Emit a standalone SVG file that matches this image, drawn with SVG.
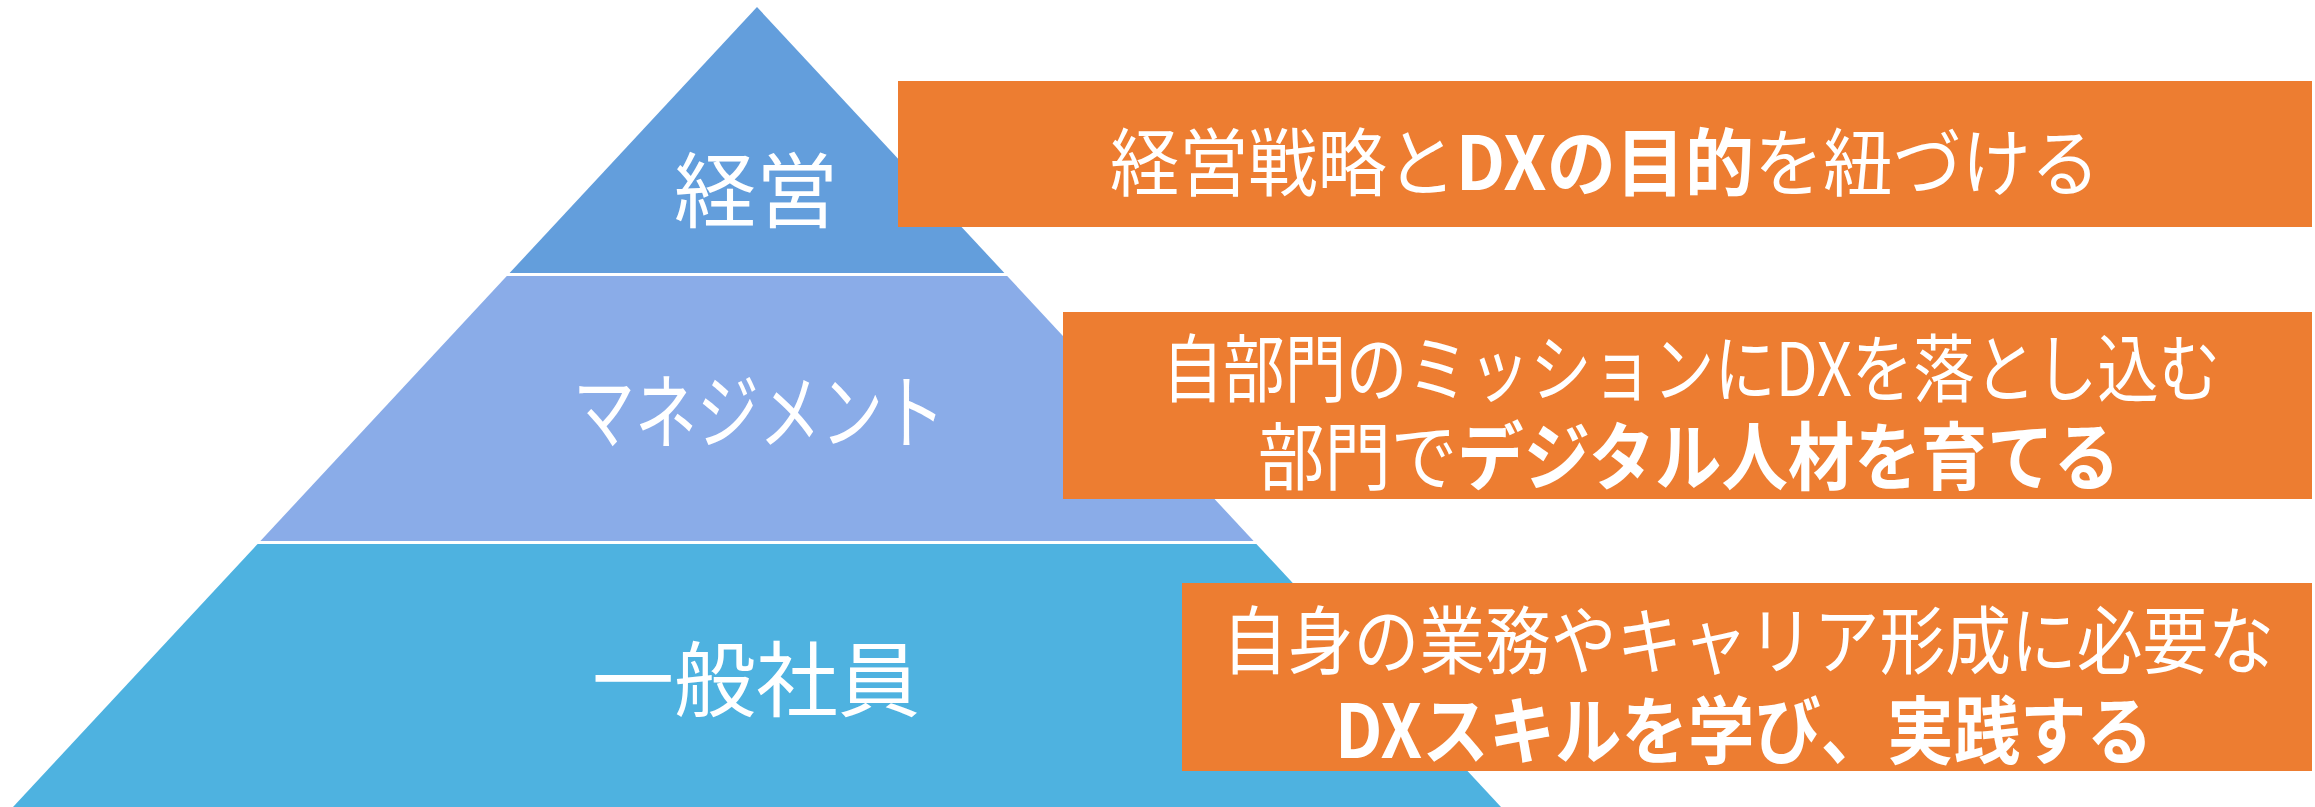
<svg xmlns="http://www.w3.org/2000/svg" width="2315" height="807" viewBox="0 0 2315 807">
<style>
.lbl{font-family:"Noto Sans CJK JP","Noto Sans",sans-serif;fill:#ffffff;text-anchor:middle;dominant-baseline:central}
.tier{font-size:82px;font-weight:400}
.box{fill:#ED7D31}
.bt{font-size:74px;font-weight:400}
.b{font-weight:700}
</style>
<rect width="2315" height="807" fill="#ffffff"/>
<g id="tier-keiei">
<polygon points="757,7 1004.4,273 509.6,273" fill="#639EDC"/>
<text class="lbl tier" x="756" y="185">経営</text>
</g>
<g id="tier-management">
<polygon points="506.8,276 1007.2,276 1253.6,541 260.4,541" fill="#8AACE8"/>
<text class="lbl tier" x="759" y="406" textLength="372" lengthAdjust="spacingAndGlyphs">マネジメント</text>
</g>
<g id="tier-staff">
<polygon points="257.6,544 1256.4,544 1501,807 13,807" fill="#4EB2E0"/>
<text class="lbl tier" x="756" y="674">一般社員</text>
</g>
<g id="box-keiei">
<rect class="box" x="898" y="81" width="1414" height="146"/>
<text class="lbl bt" x="1605" y="157" textLength="990" lengthAdjust="spacingAndGlyphs">経営戦略と<tspan class="b">DXの目的</tspan>を紐づける</text>
</g>
<g id="box-management">
<rect class="box" x="1063" y="312" width="1249" height="187"/>
<text class="lbl bt" x="1691" y="363" textLength="1058" lengthAdjust="spacingAndGlyphs">自部門のミッションにDXを落とし込む</text>
<text class="lbl bt" x="1689" y="451" textLength="862" lengthAdjust="spacingAndGlyphs">部門で<tspan class="b">デジタル人材を育てる</tspan></text>
</g>
<g id="box-staff">
<rect class="box" x="1182" y="583" width="1130" height="188"/>
<text class="lbl bt" x="1748" y="635" textLength="1052" lengthAdjust="spacingAndGlyphs">自身の業務やキャリア形成に必要な</text>
<text class="lbl bt b" x="1744" y="725" textLength="818" lengthAdjust="spacingAndGlyphs">DXスキルを学び、実践する</text>
</g>
<g id="connectors"></g>
</svg>
